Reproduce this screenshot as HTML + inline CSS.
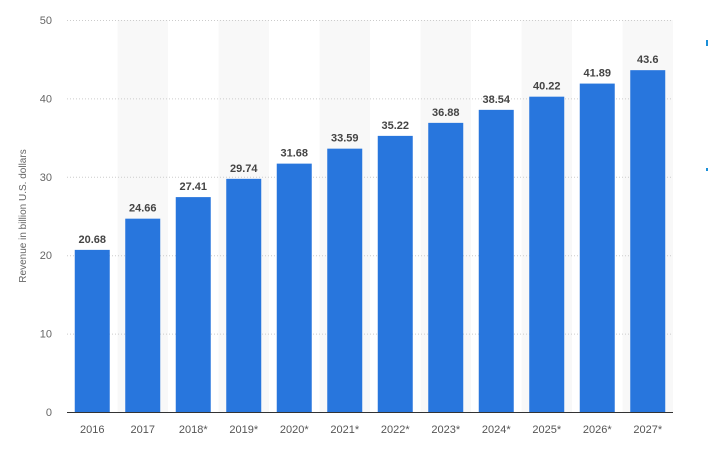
<!DOCTYPE html>
<html><head><meta charset="utf-8"><style>
html,body{margin:0;padding:0;background:#fff;}
svg{display:block;font-family:"Liberation Sans",sans-serif;}
</style></head><body>
<svg id="chart" width="709" height="467">
<g id="bands"></g><g id="grid"></g><g id="bars"></g><g id="labels"></g>
<g id="yticks"></g><g id="xticks"></g>
<line x1="67" x2="673" y1="412.5" y2="412.5" stroke="#333" stroke-width="1"/>
<text transform="translate(26,216) rotate(-90)" text-anchor="middle" font-size="10" fill="#666">Revenue in billion U.S. dollars</text>
<rect x="706" y="40" width="2" height="6" fill="#1a8fd8"/>
<rect x="706" y="168" width="2" height="3" fill="#1a8fd8"/>
</svg>
<script>
const categories=["2016","2017","2018*","2019*","2020*","2021*","2022*","2023*","2024*","2025*","2026*","2027*"];
const values=[20.68,24.66,27.41,29.74,31.68,33.59,35.22,36.88,38.54,40.22,41.89,43.6];
const valueLabels=["20.68","24.66","27.41","29.74","31.68","33.59","35.22","36.88","38.54","40.22","41.89","43.6"];
const yTicks=[0,10,20,30,40,50];
const NS="http://www.w3.org/2000/svg";
const x0=67,x1=673,yTop=20,yBot=412,yMax=50;
const step=(x1-x0)/categories.length,bw=35;
const y=v=>yBot-(v/yMax)*(yBot-yTop);
const xc=i=>x0+step*(i+0.5);
function mk(t,a,p){const e=document.createElementNS(NS,t);for(const k in a)e.setAttribute(k,a[k]);document.getElementById(p).appendChild(e);return e;}
categories.forEach((c,i)=>{
 if(i%2==1){const b=mk("rect",{x:x0+step*i,y:yTop,width:step,height:yBot-yTop,fill:"#f8f8f8"},"bands");
 
 }
});
yTicks.forEach(t=>{
 if(t>0){const l=mk("line",{x1:x0,x2:x1,y1:y(t)+0.5,y2:y(t)+0.5,stroke:"#ccc","stroke-dasharray":"1,2"},"grid");
 
 }
 const tx=mk("text",{x:52,y:y(t)+4,"text-anchor":"end","font-size":"11",fill:"#666"},"yticks");
 tx.textContent=t;
 
 
});
values.forEach((v,i)=>{
 const r=mk("rect",{x:xc(i)-bw/2,y:y(v),width:bw,height:yBot-y(v),fill:"#2876dd"},"bars");
 
 
 const t=mk("text",{x:xc(i),y:y(v)-7,"text-anchor":"middle","font-size":"11","font-weight":"bold",fill:"#444"},"labels");
 t.textContent=valueLabels[i];
 
 
 const c=mk("text",{x:xc(i),y:433,"text-anchor":"middle","font-size":"11",fill:"#555"},"xticks");
 c.textContent=categories[i];
 
 
});
</script>
</body></html>
